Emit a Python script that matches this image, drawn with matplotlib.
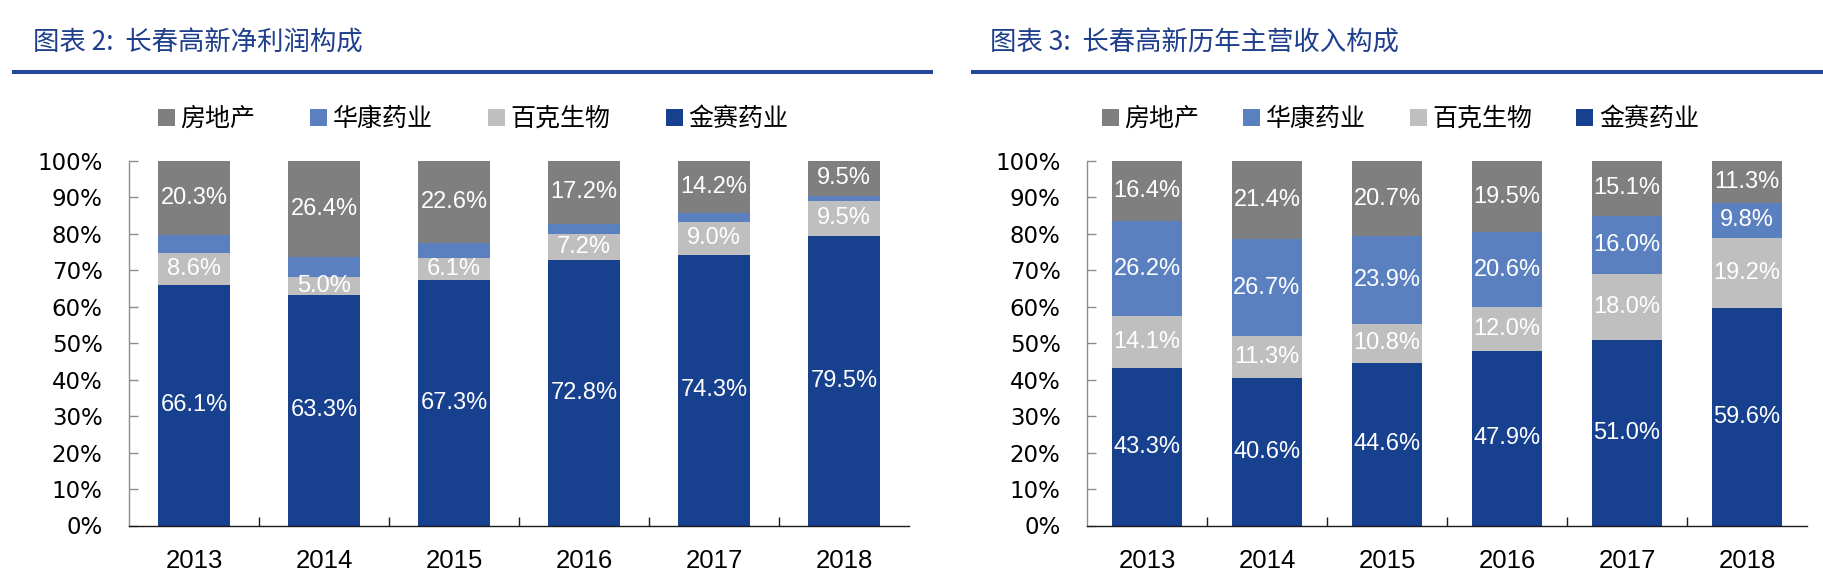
import matplotlib
matplotlib.use("Agg")
import matplotlib.pyplot as plt
from matplotlib.patches import Patch
from matplotlib.lines import Line2D
from matplotlib.font_manager import FontProperties

# ---------------- data ----------------
years = ["2013", "2014", "2015", "2016", "2017", "2018"]
series_names = ["房地产", "华康药业", "百克生物", "金赛药业"]

# 图表2: 净利润构成 (%)
profit_jinsai = [66.1, 63.3, 67.3, 72.8, 74.3, 79.5]
profit_baike = [8.6, 5.0, 6.1, 7.2, 9.0, 9.5]
profit_huakang = [5.0, 5.3, 4.0, 2.8, 2.5, 1.5]
profit_estate = [20.3, 26.4, 22.6, 17.2, 14.2, 9.5]

# 图表3: 主营收入构成 (%)
rev_jinsai = [43.3, 40.6, 44.6, 47.9, 51.0, 59.6]
rev_baike = [14.1, 11.3, 10.8, 12.0, 18.0, 19.2]
rev_huakang = [26.2, 26.7, 23.9, 20.6, 16.0, 9.8]
rev_estate = [16.4, 21.4, 20.7, 19.5, 15.1, 11.3]

yticks = [0, 10, 20, 30, 40, 50, 60, 70, 80, 90, 100]
ytick_labels = [f"{v}%" for v in yticks]

title_left = "图表 2:  长春高新净利润构成"
title_right = "图表 3:  长春高新历年主营收入构成"

# ---------------- style ----------------
C_ESTATE = "#7F7F7F"
C_HUAKANG = "#5B80C0"
C_BAIKE = "#BFBFBF"
C_JINSAI = "#17408F"
C_TITLE = "#1F3F8C"
C_RULE = "#23489A"

plt.rcParams['font.family'] = ['DejaVu Sans', 'Noto Sans CJK SC']

W, H = 1824, 586
fig = plt.figure(figsize=(W / 100, H / 100), dpi=100)

cjk = ['Noto Sans CJK SC', 'DejaVu Sans']
num_font = ['Liberation Sans', 'DejaVu Sans']


def px(v):
    return v / W


def py(v):
    return 1 - v / H


def draw_chart(left_px, width_px, bar_w, jinsai, baike, huakang, estate,
               label_huakang, title, title_x, rule_x0, rule_x1, leg_cx, colsp):
    ax = fig.add_axes([left_px / W, 60.5 / H, width_px / W, 364.5 / H])
    x = list(range(len(years)))
    b1 = jinsai
    b2 = [a + b for a, b in zip(b1, baike)]
    b3 = [a + b for a, b in zip(b2, huakang)]
    ax.bar(x, jinsai, bar_w, color=C_JINSAI, zorder=2)
    ax.bar(x, baike, bar_w, bottom=b1, color=C_BAIKE, zorder=2)
    ax.bar(x, huakang, bar_w, bottom=b2, color=C_HUAKANG, zorder=2)
    ax.bar(x, estate, bar_w, bottom=b3, color=C_ESTATE, zorder=2)

    def lab(vals, bottoms):
        for i, (v, b) in enumerate(zip(vals, bottoms)):
            ax.text(i, b + v / 2, f"{v:.1f}%", ha='center', va='center',
                    color='white', fontsize=17, family=num_font, zorder=3)

    lab(jinsai, [0] * len(years))
    lab(baike, b1)
    if label_huakang:
        lab(huakang, b2)
    lab(estate, b3)

    ax.set_xlim(-0.5, len(years) - 0.5)
    ax.set_ylim(0, 100)
    ax.set_yticks(yticks)
    ax.set_yticklabels(ytick_labels)
    ax.set_xticks(x)
    ax.set_xticklabels(years)
    ax.set_xticks([i + 0.5 for i in range(len(years) - 1)], minor=True)
    for sp in ("top", "right"):
        ax.spines[sp].set_visible(False)
    ax.spines["left"].set_color("#8C8C8C")
    ax.spines["left"].set_linewidth(1.0)
    ax.spines["bottom"].set_color("#1A1A1A")
    ax.spines["bottom"].set_linewidth(1.0)
    ax.tick_params(axis='y', direction='in', length=6.5, width=1.0,
                   color="#8C8C8C", pad=19, labelsize=16.5, labelcolor='black')
    ax.tick_params(axis='x', which='major', length=0, pad=17)
    ax.tick_params(axis='x', which='minor', direction='in', length=6.5,
                   width=1.0, color="#1A1A1A")
    for t in ax.get_xticklabels():
        t.set_fontfamily(num_font)
        t.set_fontsize(18.5)
    for t in ax.get_yticklabels():
        t.set_fontfamily(['DejaVu Sans'])

    fig.text(title_x / W, py(43), title, ha='left', va='center', fontsize=19,
             color=C_TITLE, family=cjk)
    fig.add_artist(Line2D([px(rule_x0), px(rule_x1)], [py(71.5), py(71.5)],
                          color=C_RULE, lw=2.9, solid_capstyle='butt'))

    handles = [Patch(facecolor=C_ESTATE), Patch(facecolor=C_HUAKANG),
               Patch(facecolor=C_BAIKE), Patch(facecolor=C_JINSAI)]
    fig.legend(handles, series_names, loc='center',
               bbox_to_anchor=(leg_cx / W, py(119)), ncol=4, frameon=False,
               prop=FontProperties(family=cjk, size=18),
               handlelength=0.68, handleheight=0.65, handletextpad=0.22,
               columnspacing=colsp, borderpad=0, borderaxespad=0)
    return ax


draw_chart(129, 780, 0.55, profit_jinsai, profit_baike, profit_huakang,
           profit_estate, False, title_left, 33, 12, 933, 473, 2.2)
draw_chart(1087, 720, 0.58, rev_jinsai, rev_baike, rev_huakang, rev_estate,
           True, title_right, 990, 971, 1824, 1400.5, 1.76)

fig.savefig("out.png", dpi=100, facecolor='white')
